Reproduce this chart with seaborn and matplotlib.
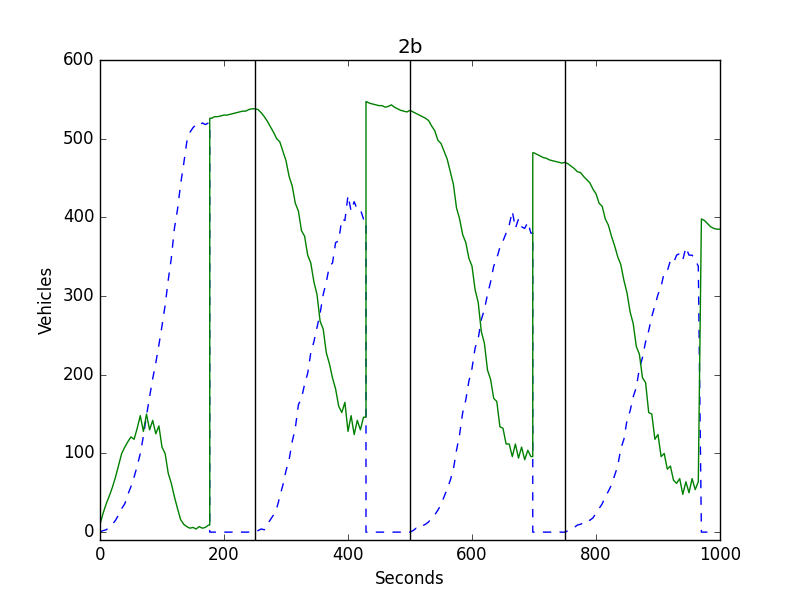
import numpy as np
import pandas as pd
import seaborn as sns
import matplotlib
matplotlib.use("Agg")
import matplotlib.pyplot as plt

# values every 5 seconds
green_vals = [
    # 0 .. 175
    10, 24, 36, 46, 57, 70, 85, 100, 108, 115, 121, 118, 132, 148, 128, 150,
    130, 142, 125, 135, 108, 100, 75, 62, 45, 30, 16, 10, 7, 5, 6, 4, 7, 5, 6, 9,
    # 180 .. 250
    526, 528, 528, 529, 530, 530, 531, 532, 533, 534, 535, 535, 537, 538, 538,
    # 255 .. 425
    537, 533, 528, 522, 515, 508, 500, 496, 484, 472, 452, 440, 418, 408, 383,
    376, 352, 342, 318, 302, 268, 258, 228, 214, 196, 182, 160, 152, 165, 128,
    148, 124, 142, 130, 146,
    # 430 .. 500
    547, 545, 544, 543, 542, 542, 540, 541, 543, 540, 538, 536, 535, 534, 536,
    # 505 .. 695
    534, 532, 530, 528, 526, 523, 516, 510, 498, 494, 484, 474, 458, 442, 412,
    398, 378, 368, 348, 338, 308, 292, 255, 240, 206, 194, 170, 166, 134, 132,
    112, 112, 96, 112, 94, 108, 92, 104, 96,
    # 700 .. 750
    482, 480, 478, 476, 475, 473, 472, 471, 470, 469, 470,
    # 755 .. 965
    468, 465, 462, 458, 457, 452, 448, 444, 436, 430, 418, 414, 398, 390, 376,
    364, 350, 340, 320, 304, 280, 265, 236, 226, 196, 190, 152, 150, 118, 124,
    96, 100, 80, 84, 66, 62, 68, 48, 64, 50, 68, 54, 64,
    # 970 .. 1000
    398, 396, 392, 388, 386, 385, 385,
]

blue_vals = [
    # 0 .. 175
    0, 2, 3, 6, 10, 15, 22, 30, 36, 48, 58, 70, 84, 100, 122, 148, 172, 195,
    215, 238, 262, 288, 320, 348, 386, 410, 442, 468, 496, 508, 514, 518, 516,
    520, 518, 520,
    # 180 .. 250
    0, 0, 0, 0, 0, 0, 0, 0, 0, 0, 0, 0, 0, 0, 0,
    # 255 .. 425
    2, 4, 3, 10, 16, 22, 30, 45, 60, 78, 92, 115, 132, 162, 170, 188, 202, 228,
    242, 260, 278, 302, 318, 338, 342, 368, 370, 398, 396, 428, 408, 420, 410,
    410, 398,
    # 430 .. 500
    0, 0, 0, 0, 0, 0, 0, 0, 0, 0, 0, 0, 0, 0, 0,
    # 505 .. 695
    2, 5, 4, 8, 10, 13, 18, 22, 28, 35, 45, 55, 66, 80, 104, 124, 152, 168, 192,
    208, 234, 246, 270, 283, 302, 318, 338, 348, 362, 370, 380, 390, 408, 386,
    398, 388, 386, 394, 380,
    # 700 .. 750
    0, 0, 0, 0, 0, 0, 0, 0, 0, 0, 0,
    # 755 .. 980
    2, 5, 6, 9, 10, 12, 16, 15, 18, 24, 30, 36, 45, 52, 60, 72, 84, 106, 118,
    142, 154, 172, 184, 208, 222, 242, 256, 274, 288, 302, 312, 330, 332, 345,
    342, 352, 354, 346, 362, 352, 352, 346, 338,
    0, 0, 0,
]

step = 5
switch_times = [177, 429, 698, 970]
phase_lines = [250, 500, 750]


def with_switches(values):
    # put the jumps exactly at the switch times
    t = list(np.arange(len(values)) * step)
    v = list(values)
    ts, vs = [], []
    for i in range(len(t)):
        ts.append(t[i])
        vs.append(v[i])
        if i + 1 < len(t):
            for s in switch_times:
                if t[i] < s < t[i + 1]:
                    ts += [s, s]
                    vs += [v[i], v[i + 1]]
    return pd.DataFrame({"Seconds": ts, "Vehicles": vs})


green = with_switches(green_vals)
blue = with_switches(blue_vals)

plt.style.use("classic")
plt.rcParams["figure.facecolor"] = "white"
plt.rcParams["savefig.facecolor"] = "white"

fig, ax = plt.subplots(figsize=(8, 6), dpi=100)

sns.lineplot(data=blue, x="Seconds", y="Vehicles", ax=ax, color="b",
             linestyle="--", linewidth=1, estimator=None, sort=False)
sns.lineplot(data=green, x="Seconds", y="Vehicles", ax=ax, color="g",
             linewidth=1, estimator=None, sort=False)

for x in phase_lines:
    ax.axvline(x, color="k", linewidth=1)

ax.set_xlim(0, 1000)
ax.set_ylim(-10, 600)
ax.set_xticks([0, 200, 400, 600, 800, 1000])
ax.set_yticks([0, 100, 200, 300, 400, 500, 600])
ax.set_title("2b")
ax.set_xlabel("Seconds")
ax.set_ylabel("Vehicles")

fig.savefig("out.png", dpi=100)
